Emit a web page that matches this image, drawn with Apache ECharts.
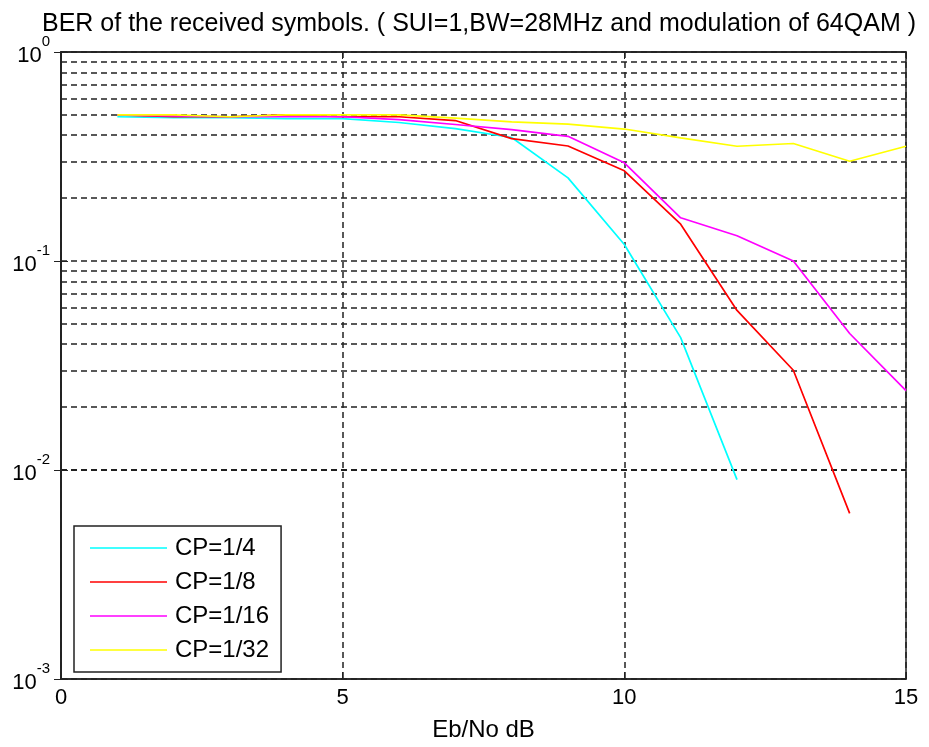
<!DOCTYPE html>
<html>
<head>
<meta charset="utf-8">
<script src="https://cdn.jsdelivr.net/npm/echarts@6/dist/echarts.min.js"></script>
<style>
html,body{margin:0;padding:0;background:#fff;}
#chart{width:929px;height:747px;}
</style>
</head>
<body>
<div id="chart"></div>
<script>
var ebNo = [1, 2, 3, 4, 5, 6, 7, 8, 9, 10, 11, 12, 13, 14, 15];
var cp4  = [0.49, 0.485, 0.485, 0.48, 0.48, 0.46, 0.43, 0.39, 0.25, 0.12, 0.043, 0.009];
var cp8  = [0.5, 0.49, 0.49, 0.5, 0.49, 0.49, 0.47, 0.385, 0.355, 0.27, 0.15, 0.058, 0.03, 0.0062];
var cp16 = [0.5, 0.495, 0.49, 0.49, 0.49, 0.475, 0.45, 0.425, 0.395, 0.295, 0.161, 0.132, 0.1, 0.045, 0.024];
var cp32 = [0.5, 0.5, 0.49, 0.5, 0.5, 0.5, 0.483, 0.463, 0.452, 0.428, 0.388, 0.354, 0.365, 0.30, 0.354];
var seriesNames = ['CP=1/4', 'CP=1/8', 'CP=1/16', 'CP=1/32'];
var seriesColors = ['#00FFFF', '#FF0000', '#FF00FF', '#FFFF00'];
var minorGrid = [0.002,0.003,0.004,0.005,0.006,0.007,0.008,0.009,
                 0.02,0.03,0.04,0.05,0.06,0.07,0.08,0.09,
                 0.2,0.3,0.4,0.5,0.6,0.7,0.8,0.9];
var xTicks = [0, 5, 10, 15];
var titleText = 'BER of the received symbols. ( SUI=1,BW=28MHz and modulation of 64QAM )';
var FONT = 'Liberation Sans';

function pairs(vals) {
  return vals.map(function (v, i) { return [ebNo[i], v]; });
}
var allData = [cp4, cp8, cp16, cp32];

var dashStyle = { color: '#222', width: 1.5, type: [6, 4] };

var series = allData.map(function (d, i) {
  return {
    name: seriesNames[i],
    type: 'line',
    data: pairs(d),
    symbol: 'none',
    lineStyle: { color: seriesColors[i], width: 1.7 },
    itemStyle: { color: seriesColors[i] },
    z: 5,
    animation: false
  };
});
series.push({
  type: 'line',
  data: [],
  silent: true,
  z: 1,
  markLine: {
    silent: true,
    symbol: 'none',
    label: { show: false },
    lineStyle: dashStyle,
    animation: false,
    data: minorGrid.map(function (v) { return { yAxis: v }; })
  }
});

var chart = echarts.init(document.getElementById('chart'), null, { renderer: 'canvas' });
chart.setOption({
  animation: false,
  backgroundColor: '#fff',
  title: {
    text: titleText,
    left: 37,
    top: 7,
    textStyle: { fontFamily: FONT, fontSize: 25, fontWeight: 'normal', color: '#000' }
  },
  grid: { left: 61, right: 23, top: 52, bottom: 65, show: true, borderColor: '#222', borderWidth: 1.5, backgroundColor: 'transparent' },
  legend: {
    orient: 'vertical',
    left: 74,
    top: 526,
    padding: [10, 12, 10, 16],
    itemGap: 10,
    itemWidth: 77,
    itemHeight: 24,
    icon: 'path://M0,11.2 L77,11.2 L77,12.8 L0,12.8 Z',
    backgroundColor: '#fff',
    borderColor: '#222',
    borderWidth: 1.5,
    data: seriesNames,
    textStyle: { fontFamily: FONT, fontSize: 24, color: '#000', padding: [0, 0, 0, 3] }
  },
  xAxis: [{
    type: 'value',
    min: 0, max: 15, interval: 5,
    name: 'Eb/No dB',
    nameLocation: 'middle',
    nameGap: 39,
    nameTextStyle: { fontFamily: FONT, fontSize: 24, color: '#000' },
    axisLine: { show: true, lineStyle: { color: '#222', width: 1.5 } },
    axisTick: { show: true, inside: true, length: 7, lineStyle: { color: '#222' } },
    axisLabel: { margin: 8, fontFamily: FONT, fontSize: 22, color: '#000',
      formatter: function (v) { return xTicks.indexOf(v) >= 0 ? String(v) : ''; } },
    splitLine: { show: true, lineStyle: dashStyle }
  }, {
    type: 'value', position: 'top',
    min: 0, max: 15, interval: 5,
    axisLine: { show: true, lineStyle: { color: '#222', width: 1.5 } },
    axisTick: { show: true, inside: true, length: 7, lineStyle: { color: '#222' } },
    axisLabel: { show: false },
    splitLine: { show: false }
  }],
  yAxis: [{
    type: 'log',
    logBase: 10,
    min: 0.001, max: 1,
    axisLine: { show: true, lineStyle: { color: '#222', width: 1.5 } },
    axisTick: { show: true, inside: true, length: 7, lineStyle: { color: '#222' } },
    splitLine: { show: true, lineStyle: dashStyle },
    axisLabel: {
      margin: 11,
      formatter: function (v) {
        var e = Math.round(Math.log10(v));
        return '{b|10}{s|' + e + '}';
      },
      rich: {
        b: { fontFamily: FONT, fontSize: 22, color: '#000', lineHeight: 22, padding: [11, 0, 3, 0] },
        s: { fontFamily: FONT, fontSize: 15, color: '#000', lineHeight: 15, padding: [0, 0, 21, 0] }
      }
    }
  }, {
    type: 'log', logBase: 10, position: 'right',
    min: 0.001, max: 1,
    axisLine: { show: true, lineStyle: { color: '#222', width: 1.5 } },
    axisTick: { show: true, inside: true, length: 7, lineStyle: { color: '#222' } },
    axisLabel: { show: false },
    splitLine: { show: false }
  }],
  series: series
});
</script>
</body>
</html>
